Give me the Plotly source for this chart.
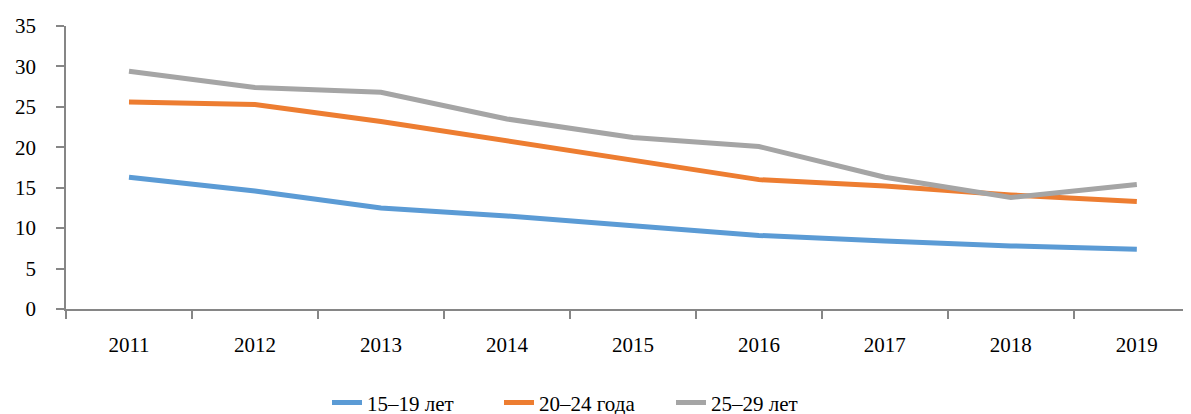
import plotly.graph_objects as go

years = ["2011", "2012", "2013", "2014", "2015", "2016", "2017", "2018", "2019"]
s15_19 = [16.3, 14.6, 12.5, 11.5, 10.3, 9.1, 8.4, 7.8, 7.4]
s20_24 = [25.6, 25.3, 23.2, 20.8, 18.3, 16.0, 15.2, 14.1, 13.3]
s25_29 = [29.4, 27.4, 26.8, 23.5, 21.2, 20.1, 16.3, 13.8, 15.4]
names = ["15–19 лет", "20–24 года", "25–29 лет"]
colors = ["#5B9BD5", "#ED7D31", "#A5A5A5"]

fig = go.Figure()
for name, vals, col in zip(names, [s15_19, s20_24, s25_29], colors):
    fig.add_trace(go.Scatter(x=years, y=vals, mode="lines", name=name,
                             line=dict(color=col, width=5)))

font = dict(family="Times New Roman", size=21, color="#000000")
fig.update_layout(
    width=1183, height=416,
    margin=dict(l=58, r=0, t=18, b=115),
    paper_bgcolor="white", plot_bgcolor="white",
    font=font,
    showlegend=True,
    legend=dict(orientation="h", x=0.232, xanchor="left", y=-0.404, yanchor="bottom",
                font=font, tracegroupgap=0, entrywidth=127),
)
fig.update_xaxes(type="category", range=[-0.5, 8.43], showgrid=False,
                 showline=True, linecolor="#868686", linewidth=1.5,
                 ticks="outside", tickson="boundaries", ticklen=8, tickcolor="#868686",
                 tickwidth=1.5, ticklabelstandoff=16, fixedrange=True)
fig.update_yaxes(range=[0, 35], dtick=5, showgrid=False,
                 showline=True, linecolor="#868686", linewidth=1.5,
                 ticks="outside", ticklen=8, tickcolor="#868686", tickwidth=1.5,
                 ticklabelstandoff=16, zeroline=False)

fig.write_html("out.html")
